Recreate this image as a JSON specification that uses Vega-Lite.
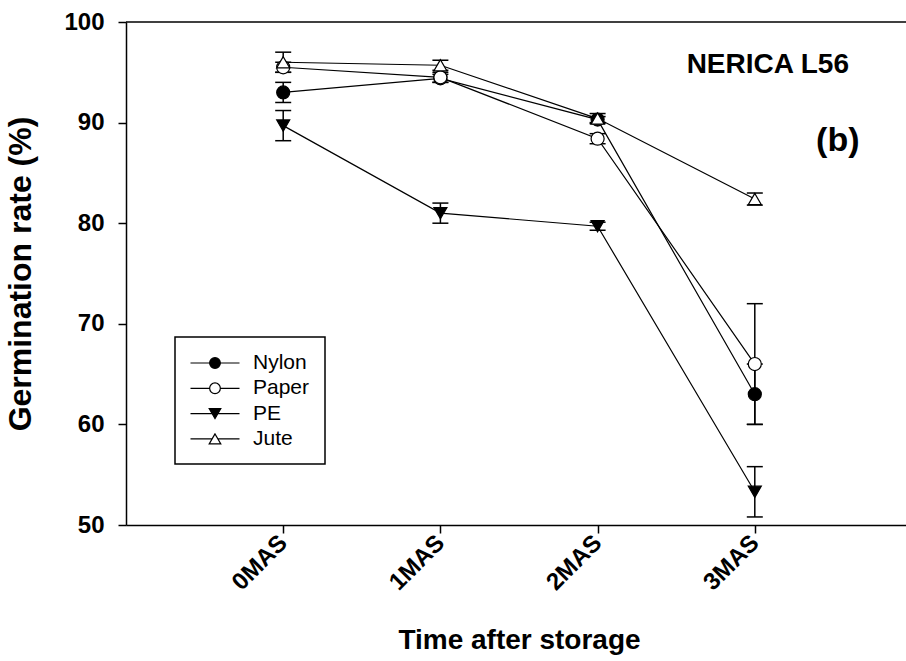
{
  "$schema": "https://vega.github.io/schema/vega-lite/v6.json",
  "width": 780,
  "height": 503,
  "autosize": "none",
  "padding": {"left": 126, "top": 22, "right": 0, "bottom": 136},
  "background": "white",
  "config": {
    "font": "Liberation Sans",
    "view": {"stroke": null},
    "axis": {
      "grid": false,
      "domainColor": "black",
      "domainWidth": 1.5,
      "tickColor": "black",
      "tickWidth": 1.5,
      "tickSize": 8,
      "labelColor": "black",
      "titleColor": "black",
      "labelFont": "Liberation Sans",
      "titleFont": "Liberation Sans",
      "labelFontWeight": "bold",
      "titleFontWeight": "bold"
    },
    "legend": {
      "title": null,
      "orient": "none",
      "legendX": 49,
      "legendY": 315,
      "strokeColor": "black",
      "padding": 15,
      "rowPadding": 4.3,
      "labelFont": "Liberation Sans",
      "labelFontSize": 21,
      "labelColor": "black",
      "labelOffset": 27,
      "symbolOffset": 14,
      "symbolSize": 400,
      "symbolOpacity": 1,
      "symbolStrokeColor": "black",
      "symbolStrokeWidth": 1.2
    }
  },
  "data": {
    "values": [
      {"time": "0MAS", "material": "Nylon", "rate": 93.0, "lo": 92.0, "hi": 94.0},
      {"time": "0MAS", "material": "Paper", "rate": 95.5, "lo": 95.0, "hi": 96.0},
      {"time": "0MAS", "material": "PE", "rate": 89.7, "lo": 88.2, "hi": 91.2},
      {"time": "0MAS", "material": "Jute", "rate": 96.0, "lo": 95.0, "hi": 97.0},
      {"time": "1MAS", "material": "Nylon", "rate": 94.4, "lo": 94.0, "hi": 94.8},
      {"time": "1MAS", "material": "Paper", "rate": 94.5, "lo": 94.0, "hi": 95.0},
      {"time": "1MAS", "material": "PE", "rate": 81.0, "lo": 80.0, "hi": 82.0},
      {"time": "1MAS", "material": "Jute", "rate": 95.7, "lo": 95.2, "hi": 96.2},
      {"time": "2MAS", "material": "Nylon", "rate": 90.3, "lo": 90.0, "hi": 90.6},
      {"time": "2MAS", "material": "Paper", "rate": 88.4, "lo": 87.9, "hi": 88.9},
      {"time": "2MAS", "material": "PE", "rate": 79.7, "lo": 79.3, "hi": 80.1},
      {"time": "2MAS", "material": "Jute", "rate": 90.4, "lo": 89.9, "hi": 90.9},
      {"time": "3MAS", "material": "Nylon", "rate": 63.0, "lo": 60.0, "hi": 66.0},
      {"time": "3MAS", "material": "Paper", "rate": 66.0, "lo": 60.0, "hi": 72.0},
      {"time": "3MAS", "material": "PE", "rate": 53.3, "lo": 50.8, "hi": 55.8},
      {"time": "3MAS", "material": "Jute", "rate": 82.4, "lo": 81.8, "hi": 83.0}
    ]
  },
  "encoding": {
    "x": {
      "field": "time",
      "type": "nominal",
      "scale": {"type": "point", "domain": ["0MAS", "1MAS", "2MAS", "3MAS"], "range": [0, 786], "padding": 1},
      "axis": {
        "title": "Time after storage",
        "titleFontSize": 28,
        "titlePadding": 32,
        "labelAngle": -45,
        "labelAlign": "right",
        "labelBaseline": "middle",
        "labelFontSize": 24,
        "labelPadding": 6
      }
    },
    "y": {
      "field": "rate",
      "type": "quantitative",
      "scale": {"domain": [50, 100], "nice": false, "zero": false},
      "axis": {
        "title": "Germination rate (%)",
        "titleFontSize": 32,
        "titlePadding": 26,
        "values": [50, 60, 70, 80, 90, 100],
        "labelFontSize": 24,
        "labelPadding": 14
      }
    }
  },
  "resolve": {"scale": {"shape": "independent", "fill": "independent"}},
  "layer": [
    {
      "data": {"values": [{"top": 100}]},
      "mark": {"type": "rule", "color": "black", "strokeWidth": 1.5},
      "encoding": {"x": null, "y": {"field": "top", "type": "quantitative"}}
    },
    {
      "mark": {"type": "line", "color": "black", "strokeWidth": 1.2},
      "encoding": {"detail": {"field": "material"}}
    },
    {
      "mark": {"type": "rule", "color": "black", "strokeWidth": 1.5},
      "encoding": {
        "y": {"field": "lo", "type": "quantitative"},
        "y2": {"field": "hi"}
      }
    },
    {
      "mark": {"type": "tick", "color": "black", "size": 16, "thickness": 1.5, "opacity": 1},
      "encoding": {"y": {"field": "lo", "type": "quantitative"}}
    },
    {
      "mark": {"type": "tick", "color": "black", "size": 16, "thickness": 1.5, "opacity": 1},
      "encoding": {"y": {"field": "hi", "type": "quantitative"}}
    },
    {
      "mark": {"type": "point", "filled": true, "stroke": "black", "strokeWidth": 1.2, "size": 170, "opacity": 1},
      "encoding": {
        "shape": {
          "field": "material",
          "type": "nominal",
          "scale": {"domain": ["Nylon", "Paper", "PE", "Jute"], "range": ["circle", "circle", "triangle-down", "triangle-up"]},
          "legend": null
        },
        "fill": {
          "field": "material",
          "type": "nominal",
          "scale": {"domain": ["Nylon", "Paper", "PE", "Jute"], "range": ["black", "white", "black", "white"]},
          "legend": null
        }
      }
    },
    {
      "mark": {"type": "point", "filled": true, "stroke": "black", "strokeWidth": 1.2, "size": 0, "opacity": 1},
      "encoding": {
        "shape": {
          "field": "material",
          "type": "nominal",
          "scale": {
            "domain": ["Nylon", "Paper", "PE", "Jute"],
            "range": [
              "M-2.45,0H-0.535M0.535,0H2.45M0.535,0A0.535,0.535 0 1 1 -0.535,0A0.535,0.535 0 1 1 0.535,0Z",
              "M-2.45,0H-0.535M0.535,0H2.45M0.535,0A0.535,0.535 0 1 1 -0.535,0A0.535,0.535 0 1 1 0.535,0Z",
              "M-2.45,0H-0.29M0.29,0H2.45M-0.58,-0.5L0.58,-0.5L0,0.5Z",
              "M-2.45,0H-0.29M0.29,0H2.45M0,-0.5L-0.58,0.5L0.58,0.5Z"
            ]
          },
          "legend": {
            "encode": {
              "legend": {"update": {"strokeWidth": {"value": 1.5}}},
              "symbols": {"update": {"stroke": {"value": "black"}, "strokeWidth": {"value": 1.2}, "strokeOpacity": {"value": 1}, "opacity": {"value": 1}}}
            }
          }
        },
        "fill": {
          "field": "material",
          "type": "nominal",
          "scale": {"domain": ["Nylon", "Paper", "PE", "Jute"], "range": ["black", "white", "black", "white"]},
          "legend": {
            "encode": {
              "legend": {"update": {"strokeWidth": {"value": 1.5}}},
              "symbols": {"update": {"stroke": {"value": "black"}, "strokeWidth": {"value": 1.2}, "strokeOpacity": {"value": 1}, "opacity": {"value": 1}}}
            }
          }
        }
      }
    },
    {
      "data": {"values": [{"time": "3MAS", "pos": 94.9, "label": "NERICA L56"}]},
      "mark": {"type": "text", "fontSize": 28, "fontWeight": "bold", "align": "center", "baseline": "alphabetic", "dx": 13, "color": "black"},
      "encoding": {
        "y": {"field": "pos", "type": "quantitative"},
        "text": {"field": "label"}
      }
    },
    {
      "data": {"values": [{"time": "3MAS", "pos": 87.2, "label": "(b)"}]},
      "mark": {"type": "text", "fontSize": 34, "fontWeight": "bold", "align": "center", "baseline": "alphabetic", "dx": 83, "color": "black"},
      "encoding": {
        "y": {"field": "pos", "type": "quantitative"},
        "text": {"field": "label"}
      }
    }
  ]
}
